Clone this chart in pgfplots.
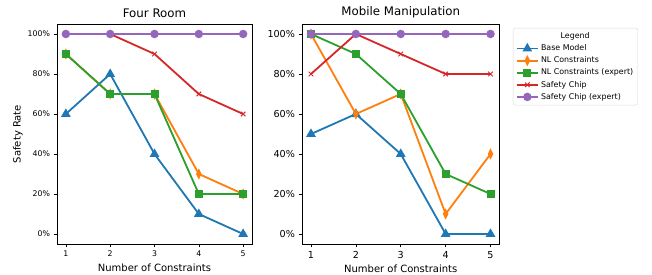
\documentclass[border=0pt]{standalone}
\usepackage{pgfplots}
\pgfplotsset{compat=1.18}
\usepackage{fontspec}
\setmainfont{DejaVu Sans}
\definecolor{tblue}{HTML}{1F77B4}
\definecolor{torange}{HTML}{FF7F0E}
\definecolor{tgreen}{HTML}{2CA02C}
\definecolor{tred}{HTML}{D62728}
\definecolor{tpurple}{HTML}{9467BD}
\pgfplotsset{
  base/.style={
    scale only axis, anchor=south west,
    xmin=0.8, xmax=5.2, ymin=-5, ymax=105,
    xtick={1,2,3,4,5},
    ytick={0,20,40,60,80,100},
    yticklabels={0\%,20\%,40\%,60\%,80\%,100\%},
    xtick pos=bottom, ytick pos=left,
    tick align=outside, major tick length=3.5pt,
    every tick/.style={black, line width=0.6pt},
    axis line style={line width=0.6pt},
    /pgf/number format/assume math mode=true,
    title style={font=\fontsize{11.8}{13}\selectfont, yshift=-3pt},
    label style={font=\fontsize{10}{11}\selectfont},
  },
  pbase/.style={tblue, line width=1.8pt, mark=triangle*, mark size=3.8pt, mark options={solid}},
  pnl/.style={torange, line width=1.8pt, mark=diamond*, mark size=3.6pt, mark options={solid, xscale=0.65}},
  pnle/.style={tgreen, line width=1.8pt, mark=square*, mark size=3.1pt, mark options={solid}},
  psc/.style={tred, line width=1.8pt, mark=x, mark size=3.2pt, mark options={solid, line width=1pt}},
  psce/.style={tpurple, line width=1.8pt, mark=*, mark size=3.3pt, mark options={solid}},
}
\begin{document}
\begin{tikzpicture}[x=1pt,y=1pt]
\useasboundingbox (0,0) rectangle (652,275);
\begin{axis}[base, at={(57pt,31pt)}, width=195pt, height=220pt,
  title={Four Room}, xlabel={Number of Constraints}, ylabel={Safety Rate},
  ticklabel style={font=\fontsize{7.8}{9}\selectfont},
  ylabel style={yshift=-2pt}]
\addplot[pbase] coordinates {(1,60)(2,80)(3,40)(4,10)(5,0)};
\addplot[pnl] coordinates {(1,90)(2,70)(3,70)(4,30)(5,20)};
\addplot[pnle] coordinates {(1,90)(2,70)(3,70)(4,20)(5,20)};
\addplot[psc] coordinates {(1,100)(2,100)(3,90)(4,70)(5,60)};
\addplot[psce] coordinates {(1,100)(2,100)(3,100)(4,100)(5,100)};
\end{axis}
\begin{axis}[base, at={(302pt,31pt)}, width=197.5pt, height=220pt,
  title={Mobile Manipulation}, xlabel={Number of Constraints},
  ticklabel style={font=\fontsize{9.6}{11}\selectfont},
  legend cell align=left,
  legend style={at={(1.068,0.982)}, anchor=north west,
    font=\fontsize{7.9}{9}\selectfont, draw=black!15, rounded corners=2pt,
    row sep=0.6pt, inner sep=2.5pt},
  legend image code/.code={\draw[line width=1.8pt, mark repeat=2,mark phase=2] plot coordinates {(0cm,0cm) (0.38cm,0cm) (0.76cm,0cm)};}]
\addlegendimage{empty legend}
\addlegendentry{\hspace{-0.45cm}\hspace{2.2em}\hspace{15pt}Legend}
\addplot[pbase] coordinates {(1,50)(2,60)(3,40)(4,0)(5,0)};
\addlegendentry{Base Model}
\addplot[pnl] coordinates {(1,100)(2,60)(3,70)(4,10)(5,40)};
\addlegendentry{NL Constraints}
\addplot[pnle] coordinates {(1,100)(2,90)(3,70)(4,30)(5,20)};
\addlegendentry{NL Constraints (expert)}
\addplot[psc] coordinates {(1,80)(2,100)(3,90)(4,80)(5,80)};
\addlegendentry{Safety Chip}
\addplot[psce] coordinates {(1,100)(2,100)(3,100)(4,100)(5,100)};
\addlegendentry{Safety Chip (expert)}
\end{axis}
\end{tikzpicture}
\end{document}
